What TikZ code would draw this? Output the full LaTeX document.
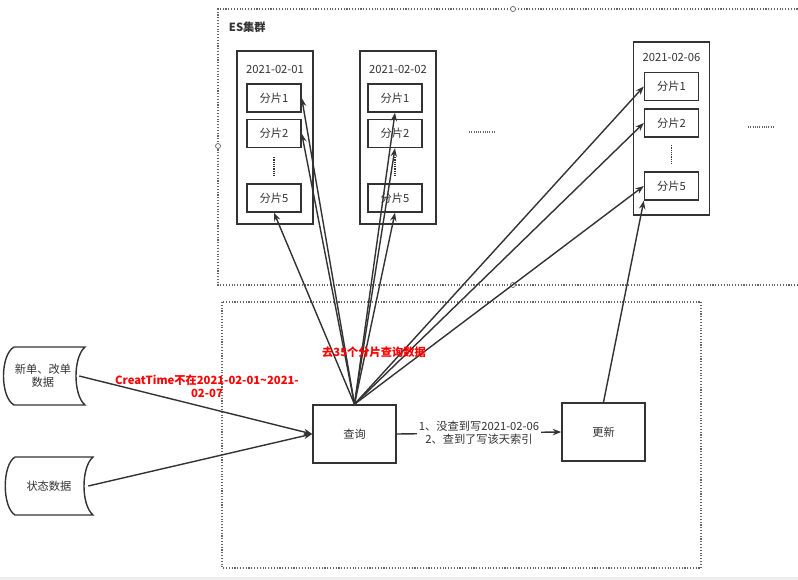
\documentclass[tikz,border=0pt]{standalone}
\usepackage{fontspec}
\setmainfont{Noto Sans CJK SC}
\usetikzlibrary{arrows.meta}
\definecolor{linec}{HTML}{333333}
\definecolor{dotc}{HTML}{666666}

\begin{document}
\begin{tikzpicture}[
    x=0.025cm, y=-0.025cm,
    every node/.style={font=\fontsize{8pt}{9.5pt}\selectfont, text=linec},
    >={Stealth[length=6pt, width=4.5pt]},
    shard/.style={draw=linec, line width=1pt, minimum width=1.35cm, minimum height=0.7cm, inner sep=0pt},
    idxbox/.style={draw=linec, line width=1.1pt, minimum width=1.9cm, minimum height=4.325cm},
    proc/.style={draw=linec, line width=1.1pt, minimum width=2.075cm, minimum height=1.45cm},
    region/.style={draw=dotc, line width=0.8pt, dash pattern=on 0.8pt off 1.2pt},
    conn/.style={->, draw=linec, line width=1pt},
    redlbl/.style={font=\fontsize{8pt}{9.5pt}\selectfont\bfseries, text=red, align=center},
    handle/.style={draw=dotc, fill=white, line width=0.5pt},
]
\useasboundingbox (0,0) rectangle (798,580);
\fill[white] (0,0) rectangle (798,580);
\fill[black!7] (0,577) rectangle (798,580);

% === ES cluster region ===
\draw[region] (820,9) -- (218,9) -- (218,285) -- (820,285);
\node[anchor=west, font=\fontsize{8pt}{9.5pt}\selectfont\bfseries] (esl) at (224,27) {ES集群};
\draw[handle] (513,9) circle (2.5);
\draw[handle] (218,146) circle (2.5);
\draw[handle] (513,285) circle (2.5);

% === Index 2021-02-01 ===
\node[idxbox] (idx1) at (275,137.5) {};
\node (idx1l) at (275,69) {2021-02-01};
\node[shard] (s11) at (274,98) {分片1};
\node[shard] (s12) at (274,133.5) {分片2};
\node[shard] (s15) at (274,198) {分片5};
\draw[linec, line width=0.9pt, dash pattern=on 1pt off 0.6pt] (274,157) -- (274,177);

% === Index 2021-02-02 ===
\node[idxbox] (idx2) at (398,137.5) {};
\node (idx2l) at (398,69) {2021-02-02};
\node[shard] (s21) at (395,98) {分片1};
\node[shard] (s22) at (395,133.5) {分片2};
\node[shard] (s25) at (395,198) {分片5};
\draw[linec, line width=0.9pt, dash pattern=on 1pt off 0.6pt] (395,157) -- (395,177);

\draw[dotc, line width=0.8pt, dash pattern=on 0.8pt off 0.8pt] (469,132) -- (495,132);

% === Index 2021-02-06 ===
\node[idxbox] (idx3) at (671.5,128.5) {};
\node (idx3l) at (671.5,57) {2021-02-06};
\node[shard] (s31) at (671.5,86.5) {分片1};
\node[shard] (s32) at (671.5,123) {分片2};
\node[shard] (s35) at (671.5,186) {分片5};
\draw[linec, line width=0.9pt, dash pattern=on 1pt off 0.6pt] (671.5,145) -- (671.5,165);

\draw[dotc, line width=0.8pt, dash pattern=on 0.8pt off 0.8pt] (748,127) -- (774,127);

% === Service region ===
\draw[region] (222,302) rectangle (701,568);

\node[proc] (query) at (354.5,434) {查询};
\node[proc] (upd) at (603.5,432) {更新};

% === Data sources ===
\node[minimum width=1.8cm, minimum height=1.45cm, align=center, inner sep=0pt] (newd) at (43,376) {新单、改单\\数据};
\draw[linec, line width=1pt] (14,347) -- (85,347) .. controls (73,357) and (73,395) .. (85,405)
    -- (14,405) .. controls (0,397) and (0,355) .. (14,347);
\node[minimum width=1.95cm, minimum height=1.45cm, inner sep=0pt] (stat) at (49,486) {状态数据};
\draw[linec, line width=1pt] (15,457) -- (93,457) .. controls (81,467) and (81,505) .. (93,515)
    -- (15,515) .. controls (2,507) and (2,465) .. (15,457);

% === Connectors ===
\draw[conn] (newd.east) -- (query.west);
\draw[conn] (stat.east) -- (query.west);
\node[redlbl] (ctl) at (207,386) {CreatTime不在2021-02-01\textasciitilde2021-\\02-07};

\foreach \s in {s11,s12}
    \draw[conn] (query.north) -- (\s.east);
\foreach \s in {s15,s21,s22,s25}
    \draw[conn] (query.north) -- (\s.south);
\foreach \s in {s31,s32,s35}
    \draw[conn] (query.north) -- (\s.west);
\node[redlbl] (qlbl) at (374,352) {去35个分片查询数据};

\draw[conn] (query.east) -- node[fill=white, align=center, inner sep=1pt] (ulbl) {1、没查到写2021-02-06\\2、查到了写该天索引} (upd.west);
\draw[conn] (upd.north) -- (s35.south west);

\end{tikzpicture}
\end{document}
